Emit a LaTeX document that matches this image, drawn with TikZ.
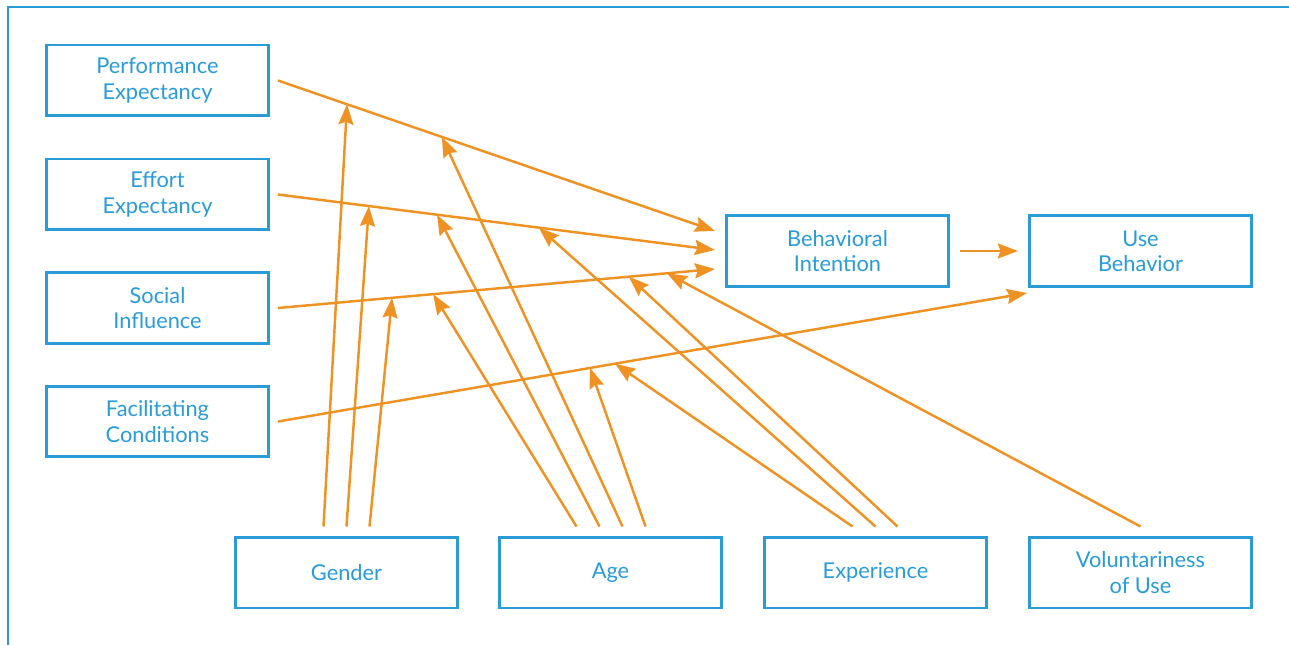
\documentclass[tikz,border=0pt]{standalone}
\usepackage{fontspec}
\setmainfont{Lato}
\usetikzlibrary{arrows.meta,calc}
\definecolor{cblue}{RGB}{41,155,215}
\definecolor{corange}{RGB}{238,146,35}
\begin{document}
\begin{tikzpicture}[x=0.02cm,y=-0.02cm,
  box/.style={draw=cblue,line width=1.7pt,minimum width=4.44cm,minimum height=1.42cm,
    inner sep=0pt,align=center,text=cblue,font=\fontsize{12.4}{14.4}\selectfont},
  arr/.style={draw=corange,line width=1.4pt,-{Stealth[length=11.5pt,width=8.5pt,inset=1.5pt]}},
  frame/.style={draw=cblue,line width=1.7pt}]
\useasboundingbox (0,0) rectangle (1289,645);
\draw[frame] (8,645) -- (8,7) -- (1289,7);
% nodes
\node[box] (pe) at (157.5,80.5) {Performance\\Expectancy};
\node[box] (ee) at (157.5,194.5) {Effort\\Expectancy};
\node[box] (si) at (157.5,308) {Social\\Influence};
\node[box] (fc) at (157.5,421.5) {Facilitating\\Conditions};
\node[box] (bi) at (837.5,251) {Behavioral\\Intention};
\node[box] (ub) at (1140.5,251) {Use\\Behavior};
\node[box] (gen) at (346.5,572.5) {Gender};
\node[box] (age) at (610.5,572.5) {Age};
\node[box] (exp) at (875.5,572.5) {Experience};
\node[box] (vol) at (1140.5,572.5) {Voluntariness\\of Use};
% main paths
\draw[arr] ($(pe.east)+(8,0)$) -- ($(bi.west)+(-10,-20)$)
  coordinate[pos=0.158] (pe1) coordinate[pos=0.375] (pe2);
\draw[arr] ($(ee.east)+(8,0)$) -- ($(bi.west)+(-10,-1)$)
  coordinate[pos=0.208] (ee1) coordinate[pos=0.364] (ee2) coordinate[pos=0.597] (ee3);
\draw[arr] ($(si.east)+(8,0)$) -- ($(bi.west)+(-10,18)$)
  coordinate[pos=0.261] (si1) coordinate[pos=0.355] (si2) coordinate[pos=0.803] (si3) coordinate[pos=0.890] (si4);
\draw[arr] ($(fc.east)+(8,0)$) -- ($(ub.south west)+(-1,5)$)
  coordinate[pos=0.4166] (fc1) coordinate[pos=0.450] (fc2);
\draw[arr] ($(bi.east)+(10,0)$) -- ($(ub.west)+(-10,0)$);
% moderator start points
\coordinate (g1) at ($(gen.north)+(-23,-9)$);
\coordinate (g2) at ($(gen.north)+(0,-9)$);
\coordinate (g3) at ($(gen.north)+(23,-9)$);
\coordinate (a1) at ($(age.north)+(-34,-9)$);
\coordinate (a2) at ($(age.north)+(-11,-9)$);
\coordinate (a3) at ($(age.north)+(12,-9)$);
\coordinate (a4) at ($(age.north)+(35,-9)$);
\coordinate (x1) at ($(exp.north)+(-23,-9)$);
\coordinate (x2) at ($(exp.north)+(0,-9)$);
\coordinate (x3) at ($(exp.north)+(22,-9)$);
\coordinate (v1) at ($(vol.north)+(0,-9)$);
% moderator arrows
\draw[arr] (g1) -- (pe1);
\draw[arr] (g2) -- (ee1);
\draw[arr] (g3) -- (si1);
\draw[arr] (a1) -- (si2);
\draw[arr] (a2) -- (ee2);
\draw[arr] (a3) -- (pe2);
\draw[arr] (a4) -- (fc1);
\draw[arr] (x1) -- (fc2);
\draw[arr] (x2) -- (ee3);
\draw[arr] (x3) -- (si3);
\draw[arr] (v1) -- (si4);
\end{tikzpicture}
\end{document}
